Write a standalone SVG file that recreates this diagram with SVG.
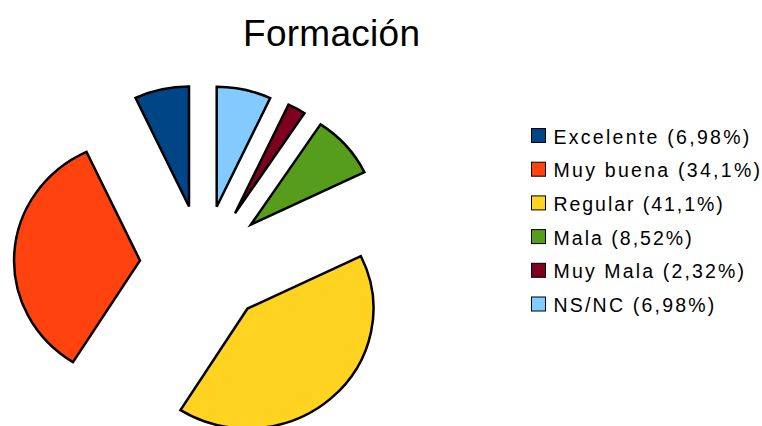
<svg xmlns="http://www.w3.org/2000/svg" width="762" height="426" viewBox="0 0 762 426">
<style>
.slice{stroke:#000;stroke-width:2.5;stroke-linejoin:miter}
.key{stroke:#000;stroke-width:1}
.lbl{font-family:"Liberation Sans",Arial,sans-serif;font-size:19.5px;fill:#000}
.title{font-family:"Liberation Sans",Arial,sans-serif;font-size:37px;fill:#000}
</style>
<rect width="762" height="426" fill="#fff"/>
<text class="title" x="243" y="46" textLength="177" lengthAdjust="spacing">Formación</text>
<g id="pie">
<g id="slice-excelente"><path class="slice" fill="#004586" d="M189,206.5 L189,86.5 A126,120 0 0 0 135.5,97.9 Z"/></g>
<g id="slice-muybuena"><path class="slice" fill="#ff420e" d="M140,260.5 L86.5,151.9 A126,120 0 0 0 73,362.1 Z"/></g>
<g id="slice-regular"><path class="slice" fill="#ffd320" d="M247.5,308.5 L180.5,410.1 A126,120 0 0 0 360.9,256.2 Z"/></g>
<g id="slice-mala"><path class="slice" fill="#579d1c" d="M251,224.5 L364.4,172.2 A126,120 0 0 0 320.5,124.4 Z"/></g>
<g id="slice-muymala"><path class="slice" fill="#7e0021" d="M235,213.3 L304.5,113.2 A126,120 0 0 0 288.5,104.7 Z"/></g>
<g id="slice-nsnc"><path class="slice" fill="#83caff" d="M216.7,206.7 L270.2,98.1 A126,120 0 0 0 216.7,86.7 Z"/></g>
</g>
<g id="legend">
<g id="leg-excelente"><rect class="key" x="531.5" y="128.5" width="14" height="14" fill="#004586"/><text class="lbl" x="553.5" y="143.5" textLength="195.8" lengthAdjust="spacing">Excelente (6,98%)</text></g>
<g id="leg-muybuena"><rect class="key" x="531.5" y="162.2" width="14" height="14" fill="#ff420e"/><text class="lbl" x="553.5" y="177.2" textLength="206.5" lengthAdjust="spacing">Muy buena (34,1%)</text></g>
<g id="leg-regular"><rect class="key" x="531.5" y="195.9" width="14" height="14" fill="#ffd320"/><text class="lbl" x="553.5" y="210.9" textLength="169.2" lengthAdjust="spacing">Regular (41,1%)</text></g>
<g id="leg-mala"><rect class="key" x="531.5" y="229.6" width="14" height="14" fill="#579d1c"/><text class="lbl" x="553.5" y="244.6" textLength="138.2" lengthAdjust="spacing">Mala (8,52%)</text></g>
<g id="leg-muymala"><rect class="key" x="531.5" y="263.3" width="14" height="14" fill="#7e0021"/><text class="lbl" x="553.5" y="278.3" textLength="190.5" lengthAdjust="spacing">Muy Mala (2,32%)</text></g>
<g id="leg-nsnc"><rect class="key" x="531.5" y="297" width="14" height="14" fill="#83caff"/><text class="lbl" x="553.5" y="312" textLength="160.8" lengthAdjust="spacing">NS/NC (6,98%)</text></g>
</g>
</svg>
